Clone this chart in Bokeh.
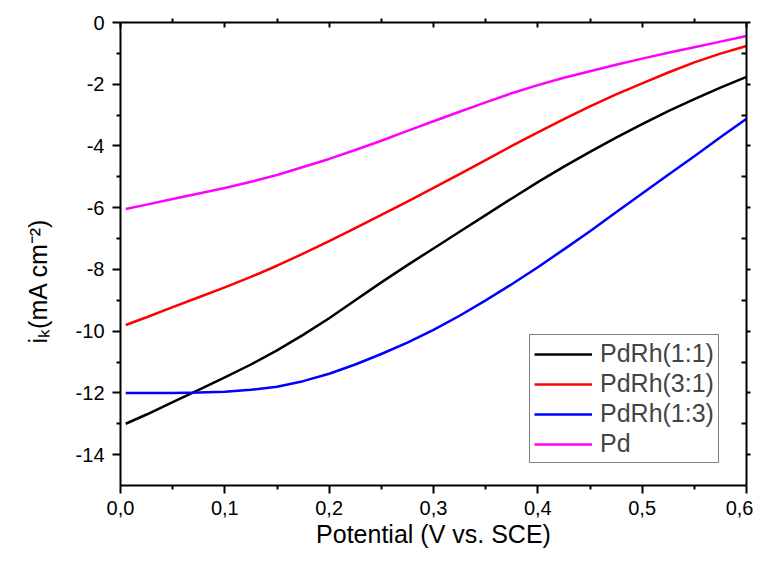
from bokeh.plotting import figure
from bokeh.models import (LinearAxis, FixedTicker, Range1d, Title, Legend, LegendItem)
from bokeh.embed import file_html
from bokeh.resources import INLINE

# ---------------- data ----------------
potential = [0.005, 0.025, 0.05, 0.075, 0.1, 0.125, 0.15, 0.175, 0.2, 0.225, 0.25, 0.275,
             0.3, 0.325, 0.35, 0.375, 0.4, 0.425, 0.45, 0.475, 0.5, 0.525, 0.55, 0.575, 0.6]
pdrh_11 = [-13.0, -12.7, -12.3, -11.9, -11.5, -11.08, -10.62, -10.12, -9.58, -9.0, -8.42, -7.86,
           -7.32, -6.78, -6.24, -5.7, -5.17, -4.67, -4.19, -3.73, -3.29, -2.87, -2.48, -2.11, -1.76]
pdrh_31 = [-9.8, -9.55, -9.22, -8.9, -8.58, -8.24, -7.88, -7.49, -7.08, -6.66, -6.23, -5.8,
           -5.36, -4.91, -4.46, -4.0, -3.56, -3.13, -2.72, -2.33, -1.97, -1.62, -1.29, -1.01, -0.76]
pdrh_13 = [-12.0, -12.0, -12.0, -11.99, -11.96, -11.9, -11.8, -11.62, -11.38, -11.08, -10.74, -10.37,
           -9.96, -9.5, -9.0, -8.48, -7.93, -7.35, -6.76, -6.15, -5.54, -4.93, -4.33, -3.72, -3.12]
pd = [-6.04, -5.9, -5.72, -5.54, -5.36, -5.16, -4.94, -4.68, -4.42, -4.13, -3.83, -3.51,
      -3.2, -2.89, -2.59, -2.29, -2.03, -1.79, -1.58, -1.37, -1.17, -0.98, -0.8, -0.62, -0.44]

series_names = ["PdRh(1:1)", "PdRh(3:1)", "PdRh(1:3)", "Pd"]
series_values = [pdrh_11, pdrh_31, pdrh_13, pd]
series_colors = ["#000000", "#ff0000", "#0000ff", "#ff00ff"]

x_ticks = [0.0, 0.1, 0.2, 0.3, 0.4, 0.5, 0.6]
x_tick_labels = ["0,0", "0,1", "0,2", "0,3", "0,4", "0,5", "0,6"]
x_minor = [0.05, 0.15, 0.25, 0.35, 0.45, 0.55]
y_ticks = [-14, -12, -10, -8, -6, -4, -2, 0]
y_tick_labels = ["-14", "-12", "-10", "-8", "-6", "-4", "-2", "0"]
y_minor = [-13, -11, -9, -7, -5, -3, -1]

x_title = "Potential (V vs. SCE)"
y_title = "i\u2096(mA cm\u207b\u00b2)"

FONT = "Liberation Sans"
W, H = 753, 550

p = figure(width=W, height=H, output_backend="svg", toolbar_location=None,
           x_range=Range1d(0, 0.6), y_range=Range1d(-15, 0),
           min_border_left=119, min_border_right=7, min_border_top=22,
           min_border_bottom=40)
p.grid.visible = False
p.outline_line_color = None
p.background_fill_color = "white"
p.border_fill_color = "white"

renderers = []
for vals, col in zip(series_values, series_colors):
    r = p.line(potential, vals, line_color=col, line_width=2.5, line_join="round")
    renderers.append(r)


def style_axis(ax, ticks, minor, labels, tin, tout, min_in, min_out, show_labels=True):
    ax.ticker = FixedTicker(ticks=ticks, minor_ticks=minor)
    ax.axis_line_width = 2
    ax.axis_line_color = "black"
    ax.major_tick_line_width = 2
    ax.minor_tick_line_width = 2
    ax.major_tick_line_color = "black"
    ax.minor_tick_line_color = "black"
    ax.major_tick_in = tin
    ax.major_tick_out = tout
    ax.minor_tick_in = min_in
    ax.minor_tick_out = min_out
    ax.major_label_overrides = {t: l for t, l in zip(ticks, labels)}
    ax.major_label_text_font = FONT
    ax.major_label_text_color = "black"
    if show_labels:
        ax.major_label_text_font_size = "20px"
    else:
        ax.major_label_text_font_size = "0px"
        ax.major_label_standoff = 0


xb = p.xaxis[0]
style_axis(xb, x_ticks, x_minor, x_tick_labels, 0, 8, 0, 4)
xb.major_label_standoff = 7
xb.axis_label = x_title
xb.axis_label_text_font = FONT
xb.axis_label_text_font_size = "25px"
xb.axis_label_text_font_style = "normal"
xb.axis_label_text_color = "black"
xb.axis_label_standoff = 2

yl = p.yaxis[0]
style_axis(yl, y_ticks, y_minor, y_tick_labels, 0, 8, 0, 4)
yl.major_label_standoff = 8

top = LinearAxis()
style_axis(top, x_ticks, x_minor, [""] * len(x_ticks), 5, 0, 0, 4, show_labels=False)
p.add_layout(top, "above")

right = LinearAxis()
style_axis(right, y_ticks, y_minor, [""] * len(y_ticks), 0, 4, 5, 0, show_labels=False)
p.add_layout(right, "right")

# y-axis title as a side title so that it can be offset along the axis
ytitle = Title(text=y_title, align="left", offset=142, standoff=42,
               text_font=FONT, text_font_size="25px", text_font_style="normal",
               text_color="black")
p.add_layout(ytitle, "left")

legend = Legend(items=[LegendItem(label=n, renderers=[r]) for n, r in zip(series_names, renderers)],
                location=(409, 22))
legend.label_text_font = FONT
legend.label_text_font_size = "25px"
legend.glyph_width = 58
legend.glyph_height = 24
legend.label_height = 24
legend.label_standoff = 8
legend.spacing = 1
legend.padding = 4
legend.margin = 0
legend.border_line_color = "black"
legend.border_line_width = 1
legend.background_fill_alpha = 1
p.add_layout(legend, "center")

open("out.html", "w").write(file_html(p, INLINE))
